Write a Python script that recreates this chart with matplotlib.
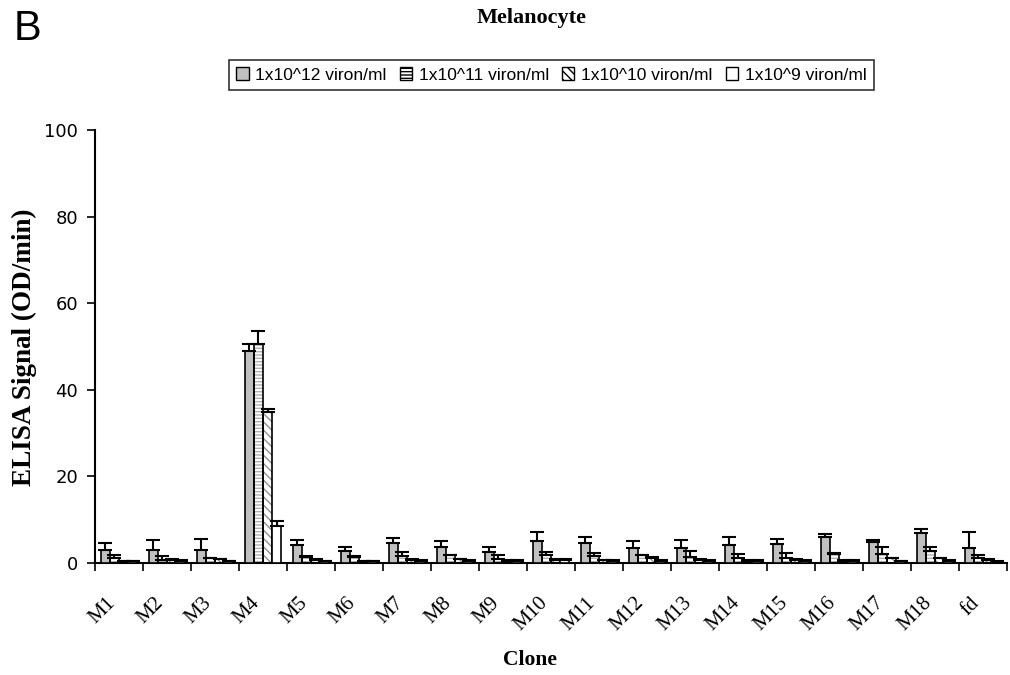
import numpy as np
import matplotlib.pyplot as plt
import matplotlib.transforms as mtransforms
from matplotlib.patches import Patch

clones = ["M1", "M2", "M3", "M4", "M5", "M6", "M7", "M8", "M9", "M10",
          "M11", "M12", "M13", "M14", "M15", "M16", "M17", "M18", "fd"]
series = ["1x10^12 viron/ml", "1x10^11 viron/ml", "1x10^10 viron/ml", "1x10^9 viron/ml"]

# bar heights
v12 = [3.1, 3.1, 3.1, 49.1, 4.2, 2.7, 4.6, 3.75, 2.55, 5.0,
       4.5, 3.45, 3.4, 4.2, 4.3, 5.9, 4.85, 6.9, 3.45]
v11 = [1.15, 0.7, 1.15, 50.6, 1.45, 1.45, 1.7, 1.75, 0.9, 1.75,
       1.5, 1.75, 1.45, 1.15, 1.15, 2.15, 2.15, 2.75, 1.05]
v10 = [0.45, 0.75, 0.8, 35.0, 0.75, 0.45, 0.75, 0.85, 0.55, 0.75,
       0.65, 1.2, 0.75, 0.55, 0.75, 0.5, 1.05, 1.05, 0.7]
v9 = [0.4, 0.5, 0.45, 8.45, 0.45, 0.45, 0.55, 0.55, 0.55, 0.75,
      0.55, 0.55, 0.5, 0.5, 0.55, 0.5, 0.55, 0.55, 0.3]

# upper error (SD)
e12 = [1.6, 2.1, 2.5, 1.5, 1.0, 1.05, 1.1, 1.25, 1.15, 2.15,
       1.4, 1.55, 1.9, 1.7, 1.3, 0.7, 0.35, 0.85, 3.75]
e11 = [0.6, 0.8, 0.1, 2.9, 0.1, 0.1, 0.75, 0.1, 0.95, 0.7,
       0.7, 0.1, 1.3, 1.0, 1.05, 0.1, 1.55, 1.0, 0.8]
e10 = [0.1, 0.1, 0.1, 0.6, 0.1, 0.1, 0.1, 0.1, 0.1, 0.1,
       0.1, 0.1, 0.1, 0.1, 0.1, 0.1, 0.1, 0.1, 0.1]
e9 = [0.1, 0.1, 0.1, 1.15, 0.1, 0.1, 0.1, 0.1, 0.1, 0.1,
      0.1, 0.1, 0.1, 0.1, 0.1, 0.1, 0.0, 0.1, 0.1]

values = [v12, v11, v10, v9]
errors = [e12, e11, e10, e9]
fills = ["#c0c0c0", "white", "white", "white"]
hatches = [None, "-----", "\\\\\\\\", None]
hatch_cols = ["black", "#b0b0b0", "#909090", "black"]

serif = "Liberation Serif"
sans = "Liberation Sans"

fig = plt.figure(figsize=(10.1, 6.75), dpi=100)
ax = fig.add_axes([0.094, 0.166, 0.903, 0.641])

x = np.arange(len(clones))
w = 0.19
offs = (np.arange(4) - 1.5) * w

for i in range(4):
    xs = x + offs[i]
    if hatches[i]:
        ax.bar(xs, values[i], w, color=fills[i], edgecolor=hatch_cols[i],
               hatch=hatches[i], linewidth=0, zorder=2)
        ax.bar(xs, values[i], w, fill=False, edgecolor="black", linewidth=1.2, zorder=3)
    else:
        ax.bar(xs, values[i], w, color=fills[i], edgecolor="black", linewidth=1.2, zorder=3)
    ax.errorbar(xs, values[i], yerr=[np.zeros(len(clones)), errors[i]], fmt="none",
                ecolor="black", elinewidth=1.5, capsize=5, capthick=1.5, zorder=4)

ax.set_xlim(-0.5, len(clones) - 0.5)
ax.set_ylim(0, 100)
ax.set_yticks(range(0, 101, 20))
ax.set_xticks(x)
ax.set_xticklabels(clones, rotation=45, ha="right", rotation_mode="anchor",
                   fontfamily=serif, fontsize=15)
ax.set_xticks(np.arange(len(clones) + 1) - 0.5, minor=True)
ax.tick_params(axis="x", which="major", length=0, pad=22)
ax.tick_params(axis="x", which="minor", length=6, width=1.2, direction="out")
ax.tick_params(axis="y", length=6, width=1.2, direction="out", labelsize=13, pad=6)
shift = mtransforms.ScaledTranslation(-0.13, 0, fig.dpi_scale_trans)
for lab in ax.get_xticklabels():
    lab.set_transform(lab.get_transform() + shift)
for lab in ax.get_yticklabels():
    lab.set_fontfamily("DejaVu Sans")

for s in ["top", "right"]:
    ax.spines[s].set_visible(False)
for s in ["left", "bottom"]:
    ax.spines[s].set_linewidth(1.5)

fig.text(0.024, 0.486, "ELISA Signal (OD/min)", fontfamily=serif, fontweight="bold",
         fontsize=19.5, rotation=90, ha="center", va="center")
fig.text(0.525, 0.022, "Clone", fontfamily=serif, fontweight="bold", fontsize=15.5,
         ha="center", va="center")
fig.text(0.526, 0.973, "Melanocyte", fontfamily=serif, fontweight="bold",
         fontsize=16, ha="center", va="center")
fig.text(0.027, 0.957, "B", fontfamily=sans, fontsize=30, ha="center", va="center")

handles = []
for i in range(4):
    handles.append(Patch(facecolor=fills[i], edgecolor="black",
                         hatch=hatches[i], linewidth=1))
leg = fig.legend(handles, series, loc="center", bbox_to_anchor=(0.546, 0.889),
                 ncol=4, frameon=True, fancybox=False, edgecolor="black",
                 prop={"family": sans, "size": 12.5}, handlelength=0.7,
                 handleheight=0.7, handletextpad=0.4, columnspacing=0.75,
                 borderpad=0.45, borderaxespad=0)
leg.get_frame().set_linewidth(1.2)

fig.savefig("out.png", dpi=100)
